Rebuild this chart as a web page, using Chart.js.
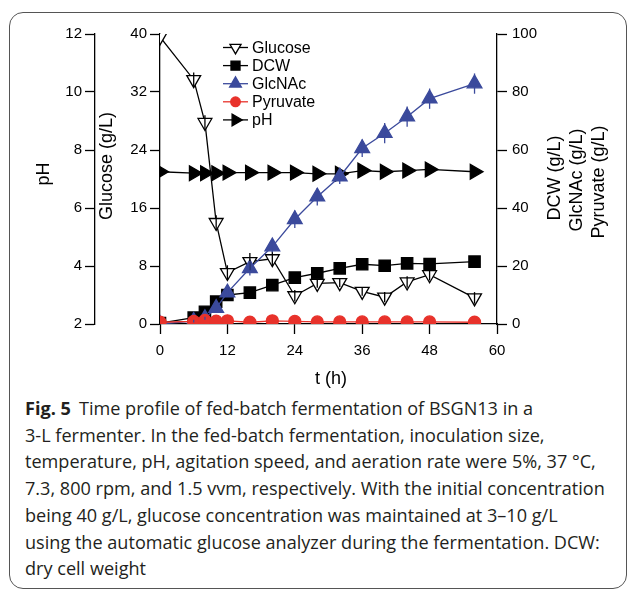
<!DOCTYPE html>
<html>
<head>
<meta charset="utf-8">
<script src="https://cdn.jsdelivr.net/npm/chart.js@4.4.0/dist/chart.umd.min.js"></script>
<style>
  html, body { margin: 0; padding: 0; background: #fff; }
  #wrap { position: relative; width: 629px; height: 590px; overflow: hidden; }
  #frame {
    position: absolute; left: 9px; top: 12px; width: 618px; height: 577px;
    border: 1.3px solid #555; border-radius: 14px; box-sizing: border-box;
  }
  #chart { position: absolute; left: 0; top: 0; }
  #caption {
    position: absolute; left: 25px; top: 395px;
    font-family: "Open Sans", sans-serif; font-size: 18px; line-height: 26.7px;
    color: #231f20; white-space: nowrap; transform-origin: 0 0;
  }
  #caption b { font-weight: 700; margin-right: 8px; }
</style>
</head>
<body>
<div id="wrap">
  <div id="frame"></div>
  <canvas id="chart" width="629" height="395"></canvas>
  <div id="caption">
    <div><b>Fig. 5</b>Time profile of fed-batch fermentation of BSGN13 in a</div>
    <div>3-L fermenter. In the fed-batch fermentation, inoculation size,</div>
    <div>temperature, pH, agitation speed, and aeration rate were 5%, 37 °C,</div>
    <div id="longLine">7.3, 800 rpm, and 1.5 vvm, respectively. With the initial concentration</div>
    <div>being 40 g/L, glucose concentration was maintained at 3–10 g/L</div>
    <div>using the automatic glucose analyzer during the fermentation. DCW:</div>
    <div>dry cell weight</div>
  </div>
</div>
<script>
// sampling times (h)
const times = [0, 6, 8, 10, 12, 16, 20, 24, 28, 32, 36, 40, 44, 48, 56];

// series
const glucose    = [39.6, 33.7, 27.8, 14.0, 7.1, 8.6, 9.0, 3.9, 5.6, 5.7, 4.5, 3.7, 5.8, 6.8, 3.6];
const glucoseErr = [0, 1.0, 1.0, 1.0, 1.0, 1.2, 1.0, 0.8, 0.6, 0.6, 0.6, 0.7, 0.8, 0.8, 0.8];
const dcw        = [0.3, 2.2, 4.2, 7.7, 10.0, 10.8, 13.4, 16.0, 17.5, 19.2, 20.6, 20.1, 20.9, 20.7, 21.5];
const glcnac     = [0, 1.0, 2.0, 5.5, 10.8, 19.2, 26.7, 36.1, 43.9, 50.8, 60.6, 65.8, 71.5, 77.7, 82.9];
const glcnacErr  = [0, 0.5, 0.5, 1.0, 1.5, 2.5, 2.0, 3.0, 3.0, 2.5, 3.0, 3.5, 3.5, 3.5, 3.5];
const pyruvate   = [0.6, 0.9, 1.2, 1.0, 1.1, 0.6, 1.1, 0.9, 0.7, 0.7, 0.7, 0.7, 0.7, 0.7, 0.6];
const ph         = [7.25, 7.2, 7.2, 7.2, 7.22, 7.22, 7.22, 7.22, 7.18, 7.18, 7.29, 7.25, 7.29, 7.33, 7.25];

// tick labels
const xTicks   = [0, 12, 24, 36, 48, 60];
const glcTicks = [0, 8, 16, 24, 32, 40];
const phTicks  = [2, 4, 6, 8, 10, 12];
const rTicks   = [0, 20, 40, 60, 80, 100];

const BLUE = '#3b4a9c';
const RED = '#e8322b';
const FONT = '"Liberation Sans", Arial, sans-serif';

function pts(ys) {
    return times.map((t, i) => ({ x: t, y: ys[i] }));
}

function setTicks(list) {
    return scale => { scale.ticks = list.map(v => ({ value: v })); };
}

const axisBase = {
    grid: { display: true, drawOnChartArea: false, tickLength: 10, tickColor: '#000', tickWidth: 1.3 },
    border: { display: true, color: '#000', width: 1.3 },
    ticks: { color: '#000', font: { family: FONT, size: 15 }, padding: 3 }
};

// legend drawn by hand, right under the top of the plot
const legendPlugin = {
    id: 'handLegend',
    afterDatasetsDraw(chart) {
        const { ctx } = chart;
        chart.data.datasets.forEach((ds, i) => {
            const y = 47.5 + i * 18.1;
            ctx.save();
            ctx.strokeStyle = ds.borderColor;
            ctx.lineWidth = 1.3;
            ctx.beginPath();
            ctx.moveTo(223, y);
            ctx.lineTo(248, y);
            ctx.stroke();
            ctx.fillStyle = ds.pointBackgroundColor;
            ctx.strokeStyle = ds.pointBorderColor;
            ctx.lineWidth = 1.3;
            Chart.helpers.drawPoint(ctx, {
                pointStyle: ds.pointStyle,
                rotation: ds.pointRotation || 0,
                radius: ds.pointRadius * 0.8,
                borderWidth: 1.3
            }, 235.5, y);
            ctx.fillStyle = '#000';
            ctx.font = '16px ' + FONT;
            ctx.textAlign = 'left';
            ctx.textBaseline = 'middle';
            ctx.fillText(ds.label, 252, y + 1);
            ctx.restore();
        });
    }
};

// error bars
const errorPlugin = {
    id: 'errorBars',
    afterDatasetsDraw(chart) {
        const { ctx, chartArea } = chart;
        ctx.save();
        ctx.beginPath();
        ctx.rect(chartArea.left, chartArea.top, chartArea.right - chartArea.left, chartArea.bottom - chartArea.top);
        ctx.clip();
        chart.data.datasets.forEach((ds, i) => {
            if (!ds.errors) return;
            const meta = chart.getDatasetMeta(i);
            const ys = chart.scales[ds.yAxisID];
            ctx.strokeStyle = ds.pointBorderColor;
            ctx.lineWidth = 1.3;
            meta.data.forEach((pt, j) => {
                const e = ds.errors[j];
                if (!e) return;
                const v = ds.data[j].y;
                ctx.beginPath();
                ctx.moveTo(pt.x, ys.getPixelForValue(v - e));
                ctx.lineTo(pt.x, ys.getPixelForValue(v + e));
                ctx.stroke();
            });
        });
        ctx.restore();
    }
};

// axis titles
const titlePlugin = {
    id: 'axisTitles',
    afterDraw(chart) {
        const { ctx } = chart;
        ctx.save();
        ctx.fillStyle = '#000';
        ctx.font = '18px ' + FONT;
        ctx.textAlign = 'center';
        ctx.textBaseline = 'middle';
        const rotated = (txt, x, y) => {
            ctx.save();
            ctx.translate(x, y);
            ctx.rotate(-Math.PI / 2);
            ctx.fillText(txt, 0, 0);
            ctx.restore();
        };
        rotated('pH', 44, 174);
        rotated('Glucose (g/L)', 107, 166);
        rotated('DCW (g/L)', 555, 178);
        rotated('GlcNAc (g/L)', 577, 180);
        rotated('Pyruvate (g/L)', 599, 182);
        ctx.fillText('t (h)', 331, 379);
        ctx.restore();
    }
};

function series(label, ys, axis, color, style, opts) {
    return Object.assign({
        label: label,
        data: pts(ys),
        yAxisID: axis,
        borderColor: color,
        borderWidth: 1.3,
        pointStyle: style,
        pointRadius: 7.5,
        pointBackgroundColor: color,
        pointBorderColor: color,
        pointBorderWidth: 1.3,
        tension: 0,
        clip: 0
    }, opts || {});
}

new Chart(document.getElementById('chart'), {
    type: 'line',
    data: {
        datasets: [
            series('Glucose', glucose, 'yGlc', '#000', 'triangle',
                { pointRotation: 180, pointBackgroundColor: '#fff', pointRadius: 8, errors: glucoseErr, order: 4 }),
            series('DCW', dcw, 'yR', '#000', 'rect', { pointRadius: 8, order: 3 }),
            series('GlcNAc', glcnac, 'yR', BLUE, 'triangle', { pointRadius: 8.5, errors: glcnacErr, order: 2 }),
            series('Pyruvate', pyruvate, 'yR', RED, 'circle', { pointRadius: 6, order: 1 }),
            series('pH', ph, 'yPH', '#000', 'triangle', { pointRotation: 90, pointRadius: 8.5, order: 5 })
        ]
    },
    options: {
        responsive: false,
        animation: false,
        devicePixelRatio: 1,
        layout: { autoPadding: false, padding: { left: 35, right: 20, top: 34, bottom: 0 } },
        plugins: { legend: { display: false }, tooltip: { enabled: false } },
        scales: {
            x: Object.assign({}, axisBase, {
                type: 'linear', position: 'bottom', min: 0, max: 60,
                afterBuildTicks: setTicks(xTicks),
                afterFit: s => { s.height = 71; },
                ticks: Object.assign({}, axisBase.ticks, { padding: 8 })
            }),
            yGlc: Object.assign({}, axisBase, {
                type: 'linear', position: 'left', weight: 1, min: 0, max: 40,
                afterBuildTicks: setTicks(glcTicks),
                afterFit: s => { s.width = 65; }
            }),
            yPH: Object.assign({}, axisBase, {
                type: 'linear', position: 'left', weight: 2, min: 2, max: 12,
                afterBuildTicks: setTicks(phTicks),
                afterFit: s => { s.width = 60; }
            }),
            yR: Object.assign({}, axisBase, {
                type: 'linear', position: 'right', min: 0, max: 100,
                afterBuildTicks: setTicks(rTicks),
                afterFit: s => { s.width = 112; },
                ticks: Object.assign({}, axisBase.ticks, { padding: 5 })
            })
        }
    },
    plugins: [errorPlugin, legendPlugin, titlePlugin]
});

// squeeze the caption to the width of the printed lines
const cap = document.getElementById('caption');
const longLine = document.getElementById('longLine');
const w = longLine.scrollWidth;
cap.style.transform = 'scaleX(' + (580 / w) + ')';
</script>
</body>
</html>
